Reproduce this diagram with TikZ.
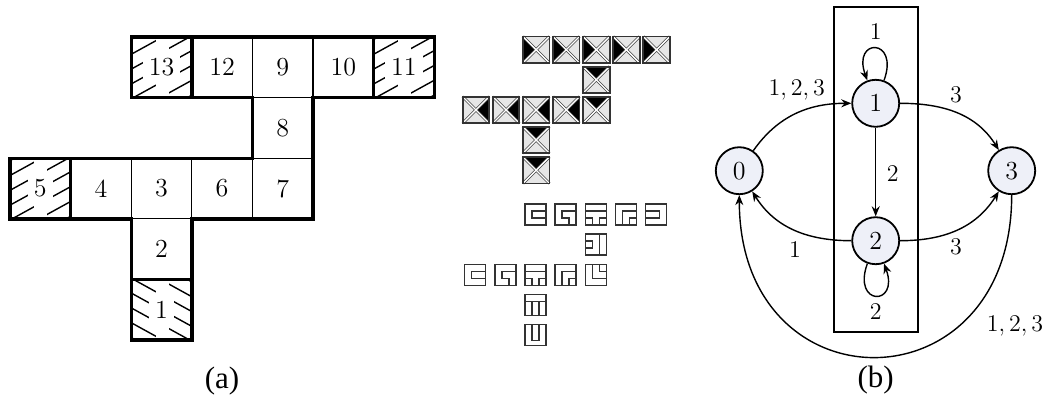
\documentclass[tikz,border=0pt]{standalone}
\usepackage{fontspec}
\newfontfamily\capfont{Liberation Serif}
\usetikzlibrary{arrows.meta}
\definecolor{statefill}{RGB}{238,240,248}
\definecolor{tilegray}{RGB}{230,230,230}
\def\GX{10}\def\GY{37}\def\GU{60.6}
\def\TX{462.7}\def\TY{36.5}\def\TP{30.1}\def\TS{26.5}
\def\MX{464.8}\def\MY{204}\def\MS{21}
\newcommand\hatchcell[3]{%
  \pgfmathsetmacro\hcx{\GX+#1*\GU+\GU/2}%
  \pgfmathsetmacro\hcy{\GY+#2*\GU+\GU/2}%
  \begin{scope}
    \clip (\GX+#1*\GU,\GY+#2*\GU) rectangle ++(\GU,\GU);
    \foreach \k in {-4,...,4}{
      \draw[hatchln] (\hcx+#3*6.27*\k-43.8, \hcy+11.39*\k+#3*24.1) -- (\hcx+#3*6.27*\k+43.8, \hcy+11.39*\k-#3*24.1);
    }
    \fill[white] (\hcx-6,\GY+#2*\GU) rectangle (\hcx+7,\GY+#2*\GU+\GU);
  \end{scope}}
\newcommand\tritile[3]{%
  \begin{scope}[shift={(\TX+#1*\TP,\TY+#2*\TP)},scale=\TS]
    \fill[tilegray] (0,0) rectangle (1,1);
    \fill[black] #3 -- (0.5,0.5) -- cycle;
    \draw[diagln] (0,0) -- (1,1) (1,0) -- (0,1);
    \draw[tileborder] (0,0) rectangle (1,1);
  \end{scope}}
\newcommand\mazetile[3]{%
  \begin{scope}[shift={(\MX+#1*\TP,\MY+#2*\TP)},scale=\MS]
    \draw[mazeln] (0,0) rectangle (1,1);
    \draw[mazeln] #3;
  \end{scope}}
\begin{document}
\begin{tikzpicture}[x=0.5pt,y=-0.5pt,
  thinln/.style={line width=0.6pt},
  thickln/.style={line width=1.7pt, line join=miter},
  hatchln/.style={line width=0.7pt},
  cellnum/.style={font=\fontsize{13}{15}\selectfont, inner sep=1pt},
  hatchnum/.style={cellnum, fill=white, inner sep=3pt},
  diagln/.style={draw=black!75, line width=0.35pt, double=white, double distance=0.7pt},
  tileborder/.style={draw=black!80, line width=0.9pt},
  mazeln/.style={draw=black!80, line width=0.65pt},
  stnode/.style={circle, draw, line width=0.9pt, fill=statefill, minimum size=23.5pt, inner sep=0pt, font=\fontsize{13}{15}\selectfont},
  conn/.style={line width=0.7pt, -{Stealth[length=5pt,width=4pt]}},
  lbl/.style={inner sep=0pt, font=\fontsize{13}{15}\selectfont},
  captxt/.style={inner sep=0pt, font=\capfont\fontsize{15.5}{18}\selectfont}
]
\useasboundingbox (0,0) rectangle (1051,402);

% ---------- (a) grid ----------
\hatchcell{2}{0}{1}
\hatchcell{6}{0}{1}
\hatchcell{0}{2}{1}
\hatchcell{2}{4}{-1}
\foreach \c/\r in {2/0,3/0,4/0,5/0,6/0,4/1,0/2,1/2,2/2,3/2,4/2,2/3,2/4}{
  \draw[thinln] (\GX+\c*\GU,\GY+\r*\GU) rectangle ++(\GU,\GU);
}
\foreach \n/\c/\r in {12/3/0,9/4/0,10/5/0,8/4/1,4/1/2,3/2/2,6/3/2,7/4/2,2/2/3}{
  \node[cellnum] (c\n) at (\GX+\c*\GU+\GU/2,\GY+\r*\GU+\GU/2) {\n};
}
\foreach \n/\c/\r in {13/2/0,11/6/0,5/0/2,1/2/4}{
  \node[hatchnum] (c\n) at (\GX+\c*\GU+\GU/2,\GY+\r*\GU+\GU/2) {\n};
  \draw[thickln] (\GX+\c*\GU,\GY+\r*\GU) rectangle ++(\GU,\GU);
}
\draw[thickln] (\GX+2*\GU,\GY) -- (\GX+7*\GU,\GY) -- (\GX+7*\GU,\GY+\GU) -- (\GX+5*\GU,\GY+\GU)
  -- (\GX+5*\GU,\GY+3*\GU) -- (\GX+3*\GU,\GY+3*\GU) -- (\GX+3*\GU,\GY+5*\GU) -- (\GX+2*\GU,\GY+5*\GU)
  -- (\GX+2*\GU,\GY+3*\GU) -- (\GX,\GY+3*\GU) -- (\GX,\GY+2*\GU) -- (\GX+4*\GU,\GY+2*\GU)
  -- (\GX+4*\GU,\GY+\GU) -- (\GX+2*\GU,\GY+\GU) -- cycle;

% ---------- middle: triangle tiles ----------
\foreach \c/\r in {2/0,3/0,4/0,5/0,6/0}{\tritile{\c}{\r}{(0,0) -- (0,1)}}
\foreach \c/\r in {4/1,4/2,2/3,2/4}{\tritile{\c}{\r}{(0,0) -- (1,0)}}
\foreach \c/\r in {0/2,1/2,2/2,3/2}{\tritile{\c}{\r}{(1,0) -- (1,1)}}

% ---------- middle: maze tiles ----------
\def\a{0.333}\def\b{0.667}
\mazetile{2}{0}{(1,\a) -- (\a,\a) -- (\a,\b) -- (1,\b)}
\mazetile{3}{0}{(1,\a) -- (\a,\a) -- (\a,\b) -- (\b,\b) -- (\b,1)}
\mazetile{4}{0}{(0,\a) -- (1,\a) (0,\b) -- (\a,\b) -- (\a,1) (1,\b) -- (\b,\b) -- (\b,1)}
\mazetile{5}{0}{(1,\a) -- (\a,\a) -- (\a,1) (1,\b) -- (\b,\b) -- (\b,1)}
\mazetile{6}{0}{(0,\a) -- (\b,\a) -- (\b,\b) -- (0,\b)}
\mazetile{4}{1}{(0,\a) -- (\a,\a) -- (\a,\b) -- (0,\b) (\b,0) -- (\b,1)}
\mazetile{0}{2}{(1,\a) -- (\a,\a) -- (\a,\b) -- (1,\b)}
\mazetile{1}{2}{(1,\a) -- (\a,\a) -- (\a,\b) -- (\b,\b) -- (\b,1)}
\mazetile{2}{2}{(0,\a) -- (1,\a) (0,\b) -- (\a,\b) -- (\a,1) (1,\b) -- (\b,\b) -- (\b,1)}
\mazetile{3}{2}{(1,\a) -- (\a,\a) -- (\a,1) (1,\b) -- (\b,\b) -- (\b,1)}
\mazetile{4}{2}{(\a,0) -- (\a,\b) -- (1,\b) (\b,0) -- (\b,\a) -- (1,\a)}
\mazetile{2}{3}{(0,\a) -- (1,\a) (\a,\a) -- (\a,1) (\b,\a) -- (\b,1)}
\mazetile{2}{4}{(\a,0) -- (\a,0.75) -- (\b,0.75) -- (\b,0)}

\node[captxt] (capa) at (222,381) {(a)};

% ---------- (b) automaton ----------
\draw[line width=0.9pt] (834.3,6.7) rectangle (918.3,331.7);
\node[stnode] (n0) at (739.3,170.7) {0};
\node[stnode] (n1) at (875.7,103.3) {1};
\node[stnode] (n2) at (875.7,240.7) {2};
\node[stnode] (n3) at (1011.7,170.7) {3};
\draw[conn] (n0.55) to[out=55,in=180] (n1.west);
\draw[conn] (n1.east) to[out=0,in=122] (n3.122);
\draw[conn] (n1) -- (n2);
\draw[conn] (n2.west) to[out=180,in=-58] (n0.-58);
\draw[conn] (n2.east) to[out=0,in=-122] (n3.-122);
\draw[conn] (n3.south) to[out=-90,in=-90,looseness=2.03] (n0.south);
\draw[conn] (n1.70) to[out=70,in=110,looseness=7] (n1.110);
\draw[conn] (n2.250) to[out=250,in=290,looseness=7] (n2.290);
\node[lbl] (l01) at (796.7,90) {$1,2,3$};
\node[lbl] (l13) at (956,94.3) {$3$};
\node[lbl] (l12) at (892.7,173.3) {$2$};
\node[lbl] (l20) at (795,249.3) {$1$};
\node[lbl] (l23) at (956,246.7) {$3$};
\node[lbl] (l30) at (1015,326) {$1,2,3$};
\node[lbl] (l11) at (875.7,31.7) {$1$};
\node[lbl] (l22) at (875.7,311.7) {$2$};
\node[captxt] (capb) at (875.7,380) {(b)};
\end{tikzpicture}
\end{document}
